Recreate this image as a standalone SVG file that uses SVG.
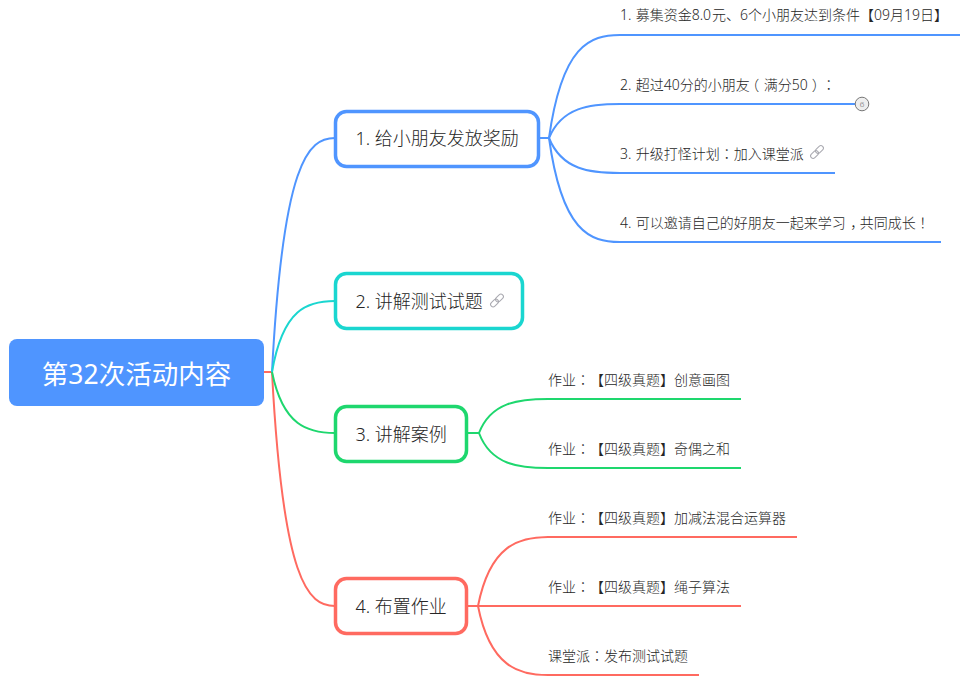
<svg xmlns="http://www.w3.org/2000/svg" width="963" height="684" viewBox="0 0 963 684">
<defs>
<g id="link" fill="none" stroke="#a9a9b0" stroke-width="1" transform="rotate(-45)">
<rect x="-8" y="-2.500" width="9" height="5" rx="2.500"/>
<rect x="-1" y="-2.500" width="9" height="5" rx="2.500"/>
</g>
</defs>
<style>
text{font-family:"Noto Sans","Noto Sans CJK SC",sans-serif;fill:#262626;text-spacing-trim:space-all;font-weight:300}
.l{font-size:14px}
.b{font-size:18px}
.p{font-family:"Noto Sans CJK TC",sans-serif}
.h{font-family:"Noto Sans CJK SC",sans-serif;font-feature-settings:"halt"}
.c{fill:none;stroke-width:2}
.n{fill:#fff;stroke-width:3.500}
.blue{stroke:#4f95ff}.teal{stroke:#1ad6d0}.green{stroke:#1ed76e}.red{stroke:#ff6a60}
</style>
<rect width="963" height="684" fill="#fff"/>
<g id="connectors">
<path class="c red" d="M264 372H272C283 582 308 606 335 606"/>
<path class="c blue" d="M272 372C283 162 308 138 335 138"/>
<path class="c teal" d="M272 372C283 308 308 301 335 301"/>
<path class="c green" d="M272 372C283 426 308 433 335 433"/>
<path class="c blue" d="M539 138H549C562 45 590 35 620 35H960"/>
<path class="c blue" d="M549 138C562 107 590 104 620 104H855"/>
<path class="c blue" d="M549 138C562 170 590 173 620 173H835"/>
<path class="c blue" d="M549 138C562 232 590 242 620 242H941"/>
<path class="c green" d="M467 433H479C491 402 519 399 548 399H741"/>
<path class="c green" d="M479 433C491 465 519 468 548 468H741"/>
<path class="c red" d="M467 606H478C490 545 519 537 548 537H797"/>
<path class="c red" d="M478 606H741"/>
<path class="c red" d="M478 606C490 667 519 675 548 675H699"/>
</g>
<g id="root"><rect x="9" y="339" width="255" height="67" rx="8" fill="#4f95ff"/><text x="136.500" y="384" text-anchor="middle" style="font-size:26.500px;fill:#fff;font-weight:400">第32次活动内容</text></g>
<g id="n1"><rect class="n blue" x="335.500" y="111.500" width="203" height="55" rx="11"/><text class="b" x="355.500" y="145">1. 给小朋友发放奖励</text></g>
<g id="n2"><rect class="n teal" x="335.500" y="273.500" width="187" height="55" rx="11"/><text class="b" x="355.500" y="308">2. 讲解测试试题</text><use href="#link" transform="translate(497 300.500)"/></g>
<g id="n3"><rect class="n green" x="335.500" y="406.500" width="131" height="55" rx="11"/><text class="b" x="355.500" y="441">3. 讲解案例</text></g>
<g id="n4"><rect class="n red" x="335.500" y="578.500" width="131" height="55" rx="11"/><text class="b" x="355.500" y="613">4. 布置作业</text></g>
<g id="l1"><text class="l" x="620" y="20">1. <tspan dx="0.600">募</tspan>集资金8.0<tspan dx="1">元</tspan>、6个小朋友达到条件【09月19日】</text></g>
<g id="l2"><text class="l" x="620" y="90">2. <tspan dx="0.600">超</tspan>过40分的小朋友<tspan class="h" dx="2.500">（</tspan><tspan dx="4.500">满</tspan>分50<tspan class="h" dx="4">）</tspan><tspan dx="3" class="p">：</tspan></text>
<circle cx="862" cy="104" r="6.800" fill="#eee" stroke="#777" stroke-width="1"/><text x="862" y="107" text-anchor="middle" style="font-size:8px;fill:#666">6</text></g>
<g id="l3"><text class="l" x="620" y="159">3. <tspan dx="0.600">升</tspan>级打怪计划<tspan class="p">：</tspan>加入课堂派</text><use href="#link" transform="translate(817 152)"/></g>
<g id="l4"><text class="l" x="620" y="228">4. <tspan dx="0.600">可</tspan>以邀请自己的好朋友一起来学习<tspan class="h" dx="4.500">，</tspan><tspan dx="2.500">共</tspan>同成长<tspan class="p">！</tspan></text></g>
<g id="l5"><text class="l" x="548" y="385">作业<tspan class="p">：</tspan>【四级真题】创意画图</text></g>
<g id="l6"><text class="l" x="548" y="454">作业<tspan class="p">：</tspan>【四级真题】奇偶之和</text></g>
<g id="l7"><text class="l" x="548" y="523">作业<tspan class="p">：</tspan>【四级真题】加减法混合运算器</text></g>
<g id="l8"><text class="l" x="548" y="592">作业<tspan class="p">：</tspan>【四级真题】绳子算法</text></g>
<g id="l9"><text class="l" x="548" y="661">课堂派<tspan class="p">：</tspan>发布测试试题</text></g>
</svg>
